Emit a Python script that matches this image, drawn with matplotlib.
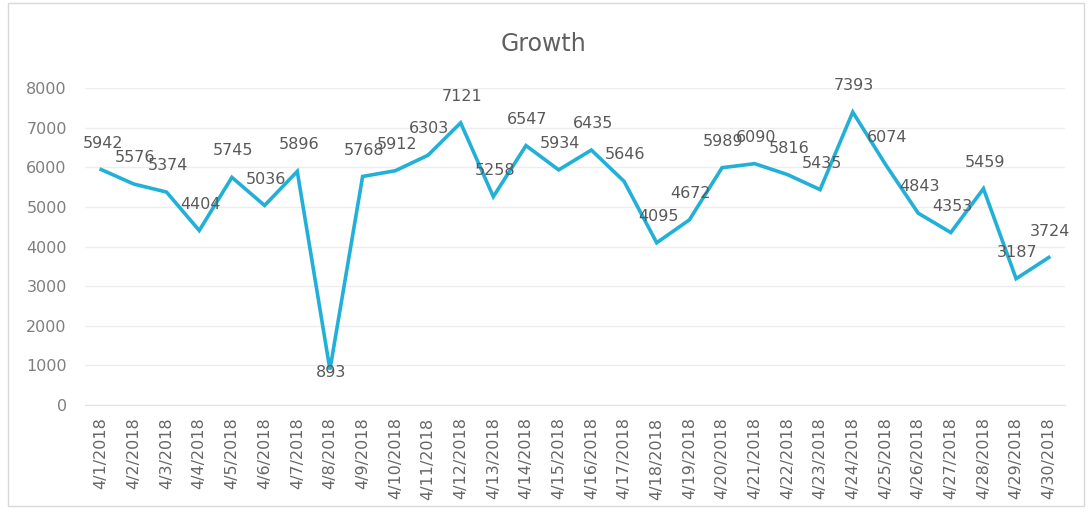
#--------------------------------------------------
# Growth line chart (Excel style) with data labels
#--------------------------------------------------
import matplotlib
matplotlib.use("Agg")
import matplotlib.pyplot as plt
from matplotlib.patches import Rectangle

#--------------------------------------------------
# data
#--------------------------------------------------
dates = ['4/%d/2018' % d for d in range(1, 31)]
growth = [5942, 5576, 5374, 4404, 5745, 5036, 5896, 893, 5768, 5912,
          6303, 7121, 5258, 6547, 5934, 6435, 5646, 4095, 4672, 5989,
          6090, 5816, 5435, 7393, 6074, 4843, 4353, 5459, 3187, 3724]
y_ticks = [0, 1000, 2000, 3000, 4000, 5000, 6000, 7000, 8000]

line_color = '#22b0d8'
text_color = '#595959'

#--------------------------------------------------
# plot
#--------------------------------------------------
plt.rcParams['font.family'] = ['DejaVu Sans']
fig = plt.figure(figsize=(10.88, 5.15), dpi=100)
ax = fig.add_axes([0.078, 0.2136, 0.901, 0.6155])

x = list(range(len(growth)))
ax.plot(x, growth, color=line_color, linewidth=2.6, solid_joinstyle='miter')

# data labels (above the point; 893 sits on the point as in the original)
for i, v in enumerate(growth):
    dy = 19 if v > 1000 else -2
    ax.annotate(str(v), (i, v), xytext=(1, dy), textcoords='offset points',
                ha='center', va='center', fontsize=11.5, color=text_color)

ax.set_xlim(-0.5, len(growth) - 0.5)
ax.set_ylim(0, 8000)
ax.set_yticks(y_ticks)
ax.set_xticks(x)
ax.set_xticklabels(dates, rotation=90, fontsize=11.5, color='#666666')
ax.tick_params(axis='y', labelsize=11.5, labelcolor='#7f7f7f', length=0, pad=13)
ax.tick_params(axis='x', length=0, pad=9)
ax.grid(axis='y', color='#ededed', linewidth=1)
ax.set_axisbelow(True)
for s in ['top', 'right', 'left']:
    ax.spines[s].set_visible(False)
ax.spines['bottom'].set_color('#e3e3e3')

fig.text(0.5, 0.915, 'Growth', ha='center', va='center', fontsize=17, color='#606060')

# chart border
fig.patches.append(Rectangle((0.0075, 0.018), 0.989, 0.976, transform=fig.transFigure,
                             fill=False, edgecolor='#d9d9d9', linewidth=1))

fig.savefig('out.png', dpi=100)
